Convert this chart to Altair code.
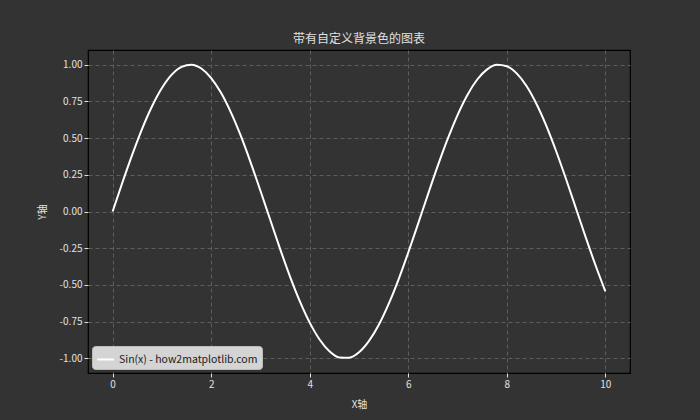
import altair as alt
import pandas as pd

x_vals = [0.0, 0.2, 0.4, 0.6, 0.8, 1.0, 1.2, 1.4, 1.6, 1.8,
          2.0, 2.2, 2.4, 2.6, 2.8, 3.0, 3.2, 3.4, 3.6, 3.8,
          4.0, 4.2, 4.4, 4.6, 4.8, 5.0, 5.2, 5.4, 5.6, 5.8,
          6.0, 6.2, 6.4, 6.6, 6.8, 7.0, 7.2, 7.4, 7.6, 7.8,
          8.0, 8.2, 8.4, 8.6, 8.8, 9.0, 9.2, 9.4, 9.6, 9.8, 10.0]
y_vals = [0.000, 0.199, 0.389, 0.565, 0.717, 0.841, 0.932, 0.985, 1.000, 0.974,
          0.909, 0.808, 0.675, 0.516, 0.335, 0.141, -0.058, -0.256, -0.443, -0.612,
          -0.757, -0.872, -0.952, -0.994, -0.996, -0.959, -0.883, -0.773, -0.631, -0.465,
          -0.279, -0.083, 0.117, 0.312, 0.494, 0.657, 0.794, 0.899, 0.968, 0.999,
          0.989, 0.941, 0.855, 0.734, 0.585, 0.412, 0.223, 0.025, -0.175, -0.366, -0.544]
series_name = "Sin(x) - how2matplotlib.com"
x_ticks = [0, 2, 4, 6, 8, 10]
y_ticks = [-1.0, -0.75, -0.5, -0.25, 0.0, 0.25, 0.5, 0.75, 1.0]

df = pd.DataFrame({"x": x_vals, "y": y_vals, "series": [series_name] * len(x_vals)})

FONT = "Noto Sans CJK SC"
TXT = "#e0e0e0"
BG = "#333333"

chart = alt.Chart(df).mark_line(strokeWidth=2, interpolate="monotone").encode(
    x=alt.X("x:Q", scale=alt.Scale(domain=[-0.5, 10.5], nice=False, zero=False),
            axis=alt.Axis(title="X轴", values=x_ticks, format="d", titlePadding=10)),
    y=alt.Y("y:Q", scale=alt.Scale(domain=[-1.1, 1.1], nice=False),
            axis=alt.Axis(title="Y轴", values=y_ticks, titlePadding=12,
                          labelExpr="replace(format(datum.value, '.2f'), '\u2212', '-')")),
    color=alt.Color("series:N", scale=alt.Scale(domain=[series_name], range=["#ffffff"]),
                    legend=alt.Legend(title=None, orient="bottom-left", symbolType="stroke",
                                      symbolStrokeWidth=2, symbolSize=280,
                                      fillColor="#d4d4d4", strokeColor="#bbbbbb",
                                      cornerRadius=3, padding=4, offset=4,
                                      labelColor="#1a1a1a", labelFont=FONT, labelFontSize=10.5)),
).properties(
    width=542, height=323,
    title=alt.Title("带有自定义背景色的图表", font=FONT, fontSize=12, color=TXT,
                    fontWeight="normal", offset=4),
    autosize=alt.AutoSizeParams(type="none"),
    padding={"left": 80, "top": 42, "right": 62, "bottom": 39},
).configure(background=BG).configure_view(
    fill=BG, stroke="#000000", strokeWidth=1.2
).configure_axis(
    labelFont=FONT, labelFontSize=10, labelColor=TXT,
    titleFont=FONT, titleFontSize=10, titleColor=TXT, titleFontWeight="normal",
    tickColor=TXT, tickSize=4, domain=False,
    grid=True, gridColor="#6a6a6a", gridDash=[4, 3], gridWidth=0.8,
)

chart.save("out.html", embed_options={"renderer": "svg", "actions": False})

# make the page margin the same dark colour as the figure
with open("out.html", encoding="utf-8") as f:
    html = f.read()
html = html.replace("<head>", "<head>\n<style>html, body { background: %s; }</style>" % BG, 1)
with open("out.html", "w", encoding="utf-8") as f:
    f.write(html)
